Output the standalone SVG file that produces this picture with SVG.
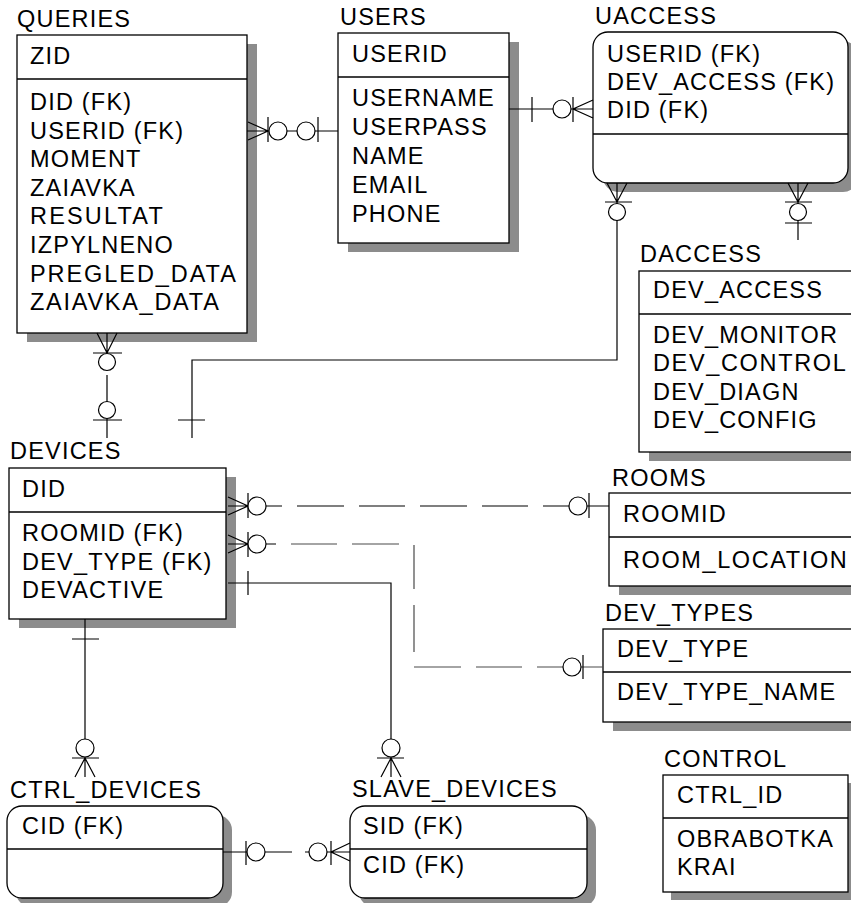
<svg xmlns="http://www.w3.org/2000/svg" width="851" height="903" viewBox="0 0 851 903">
<style>
.shadow{fill:#8c8c8c}
.box{fill:#fff;stroke:#000;stroke-width:1.3}
.div{stroke:#000;stroke-width:1.3;fill:none}
.t{font-family:"Liberation Sans",Arial,sans-serif;font-size:23.5px;letter-spacing:1.2px;fill:#000}
.c{fill:none;stroke:#000;stroke-width:1.2}
.g{fill:none;stroke:#4a4a4a;stroke-width:1.2}
.o{fill:#fff;stroke:#000;stroke-width:1.2}
</style>
<rect width="851" height="903" fill="#fff"/>

<g id="QUERIES">
<rect class="shadow" x="27" y="44" width="230" height="298"/>
<rect class="box" x="17" y="35" width="230" height="298"/>
<line class="div" x1="17" y1="79" x2="247" y2="79"/>
<text class="t" x="17" y="27">QUERIES</text>
<text class="t" x="30" y="64">ZID</text>
<text class="t" x="30" y="110">DID (FK)</text>
<text class="t" x="30" y="139">USERID (FK)</text>
<text class="t" x="30" y="167">MOMENT</text>
<text class="t" x="30" y="196">ZAIAVKA</text>
<text class="t" x="30" y="224" textLength="134" lengthAdjust="spacing">RESULTAT</text>
<text class="t" x="30" y="253">IZPYLNENO</text>
<text class="t" x="30" y="282" textLength="207" lengthAdjust="spacing">PREGLED_DATA</text>
<text class="t" x="30" y="310" textLength="190" lengthAdjust="spacing">ZAIAVKA_DATA</text>
</g>

<g id="USERS">
<rect class="shadow" x="348" y="42" width="171" height="210"/>
<rect class="box" x="338" y="33" width="171" height="210"/>
<line class="div" x1="338" y1="77" x2="509" y2="77"/>
<text class="t" x="340" y="25">USERS</text>
<text class="t" x="352" y="62">USERID</text>
<text class="t" x="352" y="106">USERNAME</text>
<text class="t" x="352" y="135">USERPASS</text>
<text class="t" x="352" y="164">NAME</text>
<text class="t" x="352" y="193">EMAIL</text>
<text class="t" x="352" y="222">PHONE</text>
</g>

<g id="UACCESS">
<rect class="shadow" x="603" y="41" width="255" height="151" rx="15"/>
<rect class="box" x="593" y="32" width="255" height="151" rx="15"/>
<line class="div" x1="593" y1="134" x2="848" y2="134"/>
<text class="t" x="595" y="24">UACCESS</text>
<text class="t" x="607" y="62">USERID (FK)</text>
<text class="t" x="607" y="90">DEV_ACCESS (FK)</text>
<text class="t" x="607" y="118">DID (FK)</text>
</g>

<g id="DACCESS">
<rect class="shadow" x="649" y="280" width="230" height="181"/>
<rect class="box" x="639" y="271" width="230" height="181"/>
<line class="div" x1="639" y1="314" x2="869" y2="314"/>
<text class="t" x="640" y="262">DACCESS</text>
<text class="t" x="653" y="298">DEV_ACCESS</text>
<text class="t" x="653" y="343">DEV_MONITOR</text>
<text class="t" x="653" y="371" textLength="194" lengthAdjust="spacing">DEV_CONTROL</text>
<text class="t" x="653" y="400">DEV_DIAGN</text>
<text class="t" x="653" y="428">DEV_CONFIG</text>
</g>

<g id="DEVICES">
<rect class="shadow" x="19" y="477" width="217" height="151"/>
<rect class="box" x="9" y="468" width="217" height="151"/>
<line class="div" x1="9" y1="512" x2="226" y2="512"/>
<text class="t" x="10" y="459">DEVICES</text>
<text class="t" x="22" y="497">DID</text>
<text class="t" x="22" y="541">ROOMID (FK)</text>
<text class="t" x="22" y="570">DEV_TYPE (FK)</text>
<text class="t" x="22" y="598">DEVACTIVE</text>
</g>

<g id="ROOMS">
<rect class="shadow" x="619" y="502" width="240" height="93"/>
<rect class="box" x="609" y="493" width="250" height="93"/>
<line class="div" x1="609" y1="537" x2="859" y2="537"/>
<text class="t" x="612" y="486">ROOMS</text>
<text class="t" x="623" y="522">ROOMID</text>
<text class="t" x="623" y="568" textLength="225" lengthAdjust="spacing">ROOM_LOCATION</text>
</g>

<g id="DEV_TYPES">
<rect class="shadow" x="613" y="638" width="250" height="93"/>
<rect class="box" x="603" y="629" width="256" height="93"/>
<line class="div" x1="603" y1="672" x2="859" y2="672"/>
<text class="t" x="605" y="621">DEV_TYPES</text>
<text class="t" x="617" y="657">DEV_TYPE</text>
<text class="t" x="617" y="700">DEV_TYPE_NAME</text>
</g>

<g id="CTRL_DEVICES">
<rect class="shadow" x="16" y="815" width="216" height="92" rx="15"/>
<rect class="box" x="7" y="806" width="216" height="92" rx="15"/>
<line class="div" x1="7" y1="849" x2="223" y2="849"/>
<text class="t" x="10" y="798">CTRL_DEVICES</text>
<text class="t" x="22" y="834">CID (FK)</text>
</g>

<g id="SLAVE_DEVICES">
<rect class="shadow" x="359" y="815" width="237" height="92" rx="15"/>
<rect class="box" x="350" y="806" width="237" height="92" rx="15"/>
<line class="div" x1="350" y1="849" x2="587" y2="849"/>
<text class="t" x="352" y="797">SLAVE_DEVICES</text>
<text class="t" x="363" y="834">SID (FK)</text>
<text class="t" x="363" y="873">CID (FK)</text>
</g>

<g id="CONTROL">
<rect class="shadow" x="671" y="783" width="185" height="117"/>
<rect class="box" x="663" y="775" width="185" height="117"/>
<line class="div" x1="663" y1="818" x2="848" y2="818"/>
<text class="t" x="664" y="767">CONTROL</text>
<text class="t" x="677" y="803">CTRL_ID</text>
<text class="t" x="677" y="847">OBRABOTKA</text>
<text class="t" x="677" y="875">KRAI</text>
</g>

<g id="connectors">
<!-- QUERIES - USERS -->
<path class="c" d="M247,131 H338 M248,122 L268,131 L248,140 M268,117 V142 M318,117 V142"/>
<circle class="o" cx="278" cy="131" r="9"/>
<circle class="o" cx="306" cy="131" r="9"/>
<!-- USERS - UACCESS -->
<path class="c" d="M509,109 H593 M532,97 V122 M573,97 V122 M593,100 L573,109 L593,118"/>
<circle class="o" cx="562" cy="109" r="9"/>
<!-- UACCESS - DEVICES -->
<path class="c" d="M617,183 V360 H192 V438 M607,183 L617,202 L627,183 M605,202 H632 M178,420 H205"/>
<circle class="o" cx="617" cy="212" r="8.5"/>
<!-- UACCESS - DACCESS -->
<path class="c" d="M798,183 V240 M788,183 L798,202 L808,183 M785,202 H812 M785,223 H812"/>
<circle class="o" cx="798" cy="212" r="8.5"/>
<!-- QUERIES - DEVICES -->
<path class="c" d="M107,333 V353 M97,333 L107,353 L117,333 M93,353 H122 M107,375 V438 M93,420 H122"/>
<circle class="o" cx="107" cy="362" r="8.5"/>
<circle class="o" cx="107" cy="410" r="8.5"/>
<!-- DEVICES - ROOMS -->
<path class="c" d="M228,506 H282 M297,506 H344 M359,506 H405 M420,506 H467 M482,506 H528 M543,506 H609 M228,497 L248,506 L228,515 M248,493 V518 M589,493 V518"/>
<circle class="o" cx="257" cy="506" r="9"/>
<circle class="o" cx="578" cy="506" r="9"/>
<!-- DEVICES - DEV_TYPES -->
<path class="c" d="M228,544 H276 M228,535 L248,544 L228,553 M248,532 V557"/>
<path class="g" d="M291,544 H337 M352,544 H399 M414,545 V589 M414,605 V652 M414,667 H461 M476,667 H522 M537,667 H603"/>
<path class="c" d="M583,655 V679"/>
<circle class="o" cx="257" cy="544" r="9"/>
<circle class="o" cx="572" cy="667" r="9"/>
<!-- DEVICES - SLAVE_DEVICES -->
<path class="c" d="M228,583 H391 V777 M248,571 V595 M377,758 H404 M381,777 L391,758 L401,777"/>
<circle class="o" cx="391" cy="748" r="9"/>
<!-- DEVICES - CTRL_DEVICES -->
<path class="c" d="M85,619 V777 M72,639 H99 M72,758 H99 M75,777 L85,758 L95,777"/>
<circle class="o" cx="85" cy="748" r="9"/>
<!-- CTRL_DEVICES - SLAVE_DEVICES -->
<path class="c" d="M223,852 H292 M305,852 H350 M246,841 V865 M331,841 V865 M350,843 L331,852 L350,861"/>
<circle class="o" cx="256" cy="852" r="9"/>
<circle class="o" cx="318" cy="852" r="9"/>
</g>
</svg>
